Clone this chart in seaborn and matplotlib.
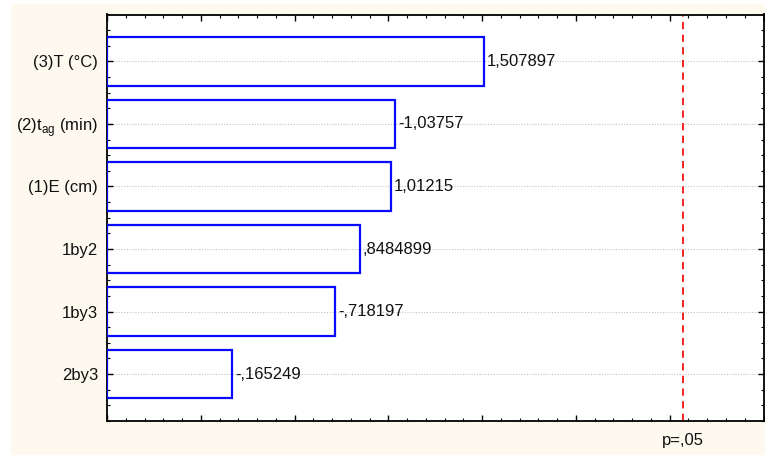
import numpy as np
import pandas as pd
import matplotlib
matplotlib.use("Agg")
import matplotlib.pyplot as plt
import matplotlib.transforms as mtransforms
from matplotlib.patches import Rectangle
from matplotlib.ticker import MultipleLocator
import seaborn as sns

# Standardized effects (Pareto chart), listed from largest to smallest |effect|
factors = ["(3)T (°C)", "(2)t$_\\mathregular{ag}$ (min)", "(1)E (cm)", "1by2", "1by3", "2by3"]
effects = [1.507897, -1.03757, 1.01215, 0.8484899, -0.718197, -0.165249]
t_critical = 2.570582          # t(5), p = .05
p_label = "p=,05"

x_min, x_max = -0.5, 3.0

sns.set_theme(style="white")
plt.rcParams["font.family"] = ["Liberation Sans", "DejaVu Sans"]
plt.rcParams["mathtext.fontset"] = "custom"
plt.rcParams["mathtext.rm"] = "Liberation Sans"

FS = 12


def stat_format(v):
    s = "{:.7g}".format(v)
    s = s.replace("0.", ".", 1) if s.lstrip("-").startswith("0.") else s
    return s.replace(".", ",")


df = pd.DataFrame({"factor": factors, "abs_effect": np.abs(effects)})

fig = plt.figure(figsize=(7.65, 4.55), dpi=100, facecolor="white")
fig.patches.append(Rectangle((11 / 765, 0), 1, 1 - 4 / 455, transform=fig.transFigure,
                             facecolor="#fdf9ee", edgecolor="none", zorder=-10))
ax = fig.add_axes([107 / 765, 34 / 455, (763.5 - 107) / 765, (421 - 14.5) / 455])
ax.set_facecolor("white")

sns.barplot(data=df, x="abs_effect", y="factor", orient="h", width=0.78, ax=ax)

# Bars start at the left edge of the axis, as in a Pareto chart of effects
for patch in ax.patches:
    w = patch.get_width()
    patch.set_x(x_min)
    patch.set_width(w - x_min)
    patch.set_facecolor("none")
    patch.set_edgecolor("#0a0aff")
    patch.set_linewidth(1.6)
    patch.set_zorder(3)

for i, (val, eff) in enumerate(zip(df["abs_effect"], effects)):
    ax.annotate(stat_format(eff), xy=(val, i), xytext=(3, 0), textcoords="offset pixels",
                ha="left", va="center", fontsize=FS, color="#111111", zorder=4)

ax.axvline(t_critical, color="#ee1111", lw=1.3, ls=(0, (4, 3)), zorder=2)
trans = mtransforms.blended_transform_factory(ax.transData, ax.transAxes)
ax.annotate(p_label, xy=(t_critical, 0), xycoords=trans, xytext=(0, -19),
            textcoords="offset pixels", ha="center", va="center", fontsize=FS, color="#111111")

ax.set_xlim(x_min, x_max)
ax.set_ylim(len(factors) - 0.25, -0.75)
ax.set_xlabel("")
ax.set_ylabel("")

ax.xaxis.set_major_locator(MultipleLocator(0.5))
ax.xaxis.set_minor_locator(MultipleLocator(0.1))
ax.yaxis.set_minor_locator(MultipleLocator(0.25))
ax.tick_params(axis="both", which="both", direction="in", top=True, right=True,
               bottom=True, left=True, color="black")
ax.tick_params(which="major", length=4, width=1.0)
ax.tick_params(which="minor", length=2, width=0.8)
ax.tick_params(axis="x", labelbottom=False)
ax.tick_params(axis="y", labelsize=FS, pad=6.5, labelcolor="#111111")

ax.yaxis.grid(True, which="major", linestyle=(0, (1, 1.5)), color="#c4c4c4", lw=0.8)
ax.xaxis.grid(False)
ax.set_axisbelow(True)
for s in ax.spines.values():
    s.set_color("black")
    s.set_linewidth(1.3)

fig.savefig("out.png", dpi=100, facecolor=fig.get_facecolor())
